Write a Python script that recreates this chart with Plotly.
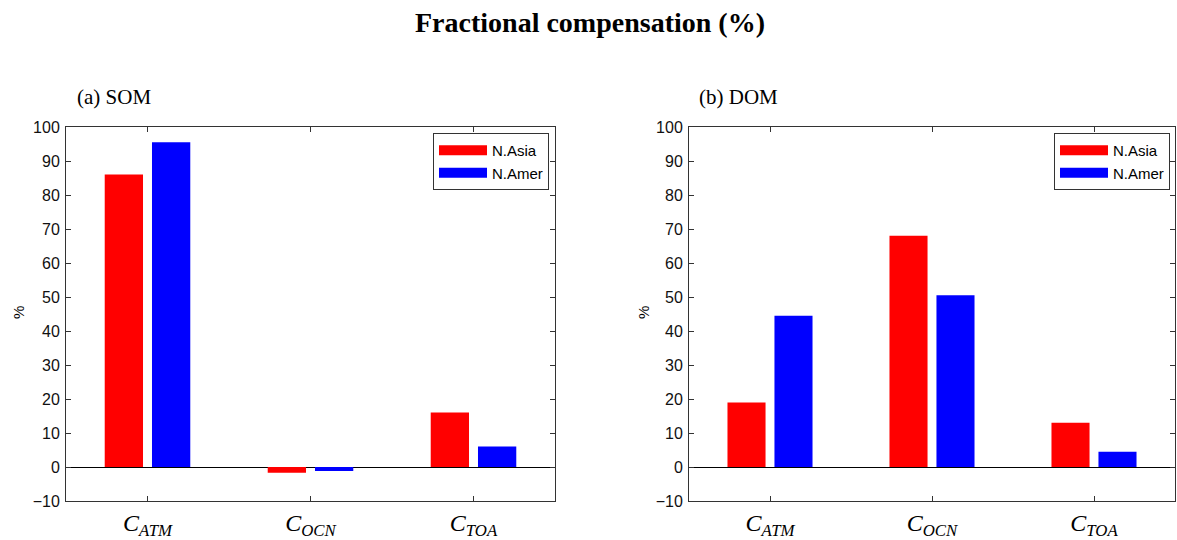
import plotly.graph_objects as go

categories = ["ATM", "OCN", "TOA"]
som_asia = [86.0, -1.7, 16.0]
som_amer = [95.5, -1.2, 6.0]
dom_asia = [19.0, 68.0, 13.0]
dom_amer = [44.5, 50.5, 4.5]
series_names = ["N.Asia", "N.Amer"]
colors = ["#ff0000", "#0000ff"]
yticks = list(range(-10, 101, 10))
tick_text = ["<i>C</i><sub><i>%s</i></sub>" % c for c in categories]

W, H = 1177, 540
xpos = [1, 2, 3]

fig = go.Figure()
for i, (a, b) in enumerate([(som_asia, som_amer), (dom_asia, dom_amer)]):
    xa = "x" if i == 0 else "x2"
    ya = "y" if i == 0 else "y2"
    lg = "legend" if i == 0 else "legend2"
    for vals, name, col in [(a, series_names[0], colors[0]), (b, series_names[1], colors[1])]:
        fig.add_trace(go.Bar(x=xpos, y=vals, name=name, marker=dict(color=col, line=dict(width=0)),
                             xaxis=xa, yaxis=ya, showlegend=False, offsetgroup=name))
        fig.add_trace(go.Scatter(x=[None], y=[None], mode="lines", name=name,
                                 line=dict(color=col, width=13), xaxis=xa, yaxis=ya,
                                 legend=lg, showlegend=True))

ydom = [(540 - 501) / H, (540 - 127) / H]
axis_common = dict(showline=True, linecolor="#333333", linewidth=1, mirror="ticks",
                   ticks="inside", ticklen=5, tickcolor="#333333", showgrid=False, automargin=False)
xcommon = dict(axis_common, range=[0.5, 3.5], tickvals=xpos, ticktext=tick_text,
               tickfont=dict(family="Liberation Serif", size=24, color="black"), zeroline=False,
               ticklabelstandoff=0)
ycommon = dict(axis_common, range=[-10, 100], tickvals=yticks,
               tickfont=dict(family="Liberation Sans", size=16, color="#111111"),
               zeroline=True, zerolinecolor="black", zerolinewidth=1, ticklabelstandoff=2)

legend_common = dict(yanchor="top", xanchor="right", y=(540 - 133) / H,
                     bgcolor="white", bordercolor="#333333", borderwidth=1,
                     font=dict(family="Liberation Sans", size=15, color="black"),
                     itemwidth=48, tracegroupgap=0)

fig.update_layout(
    width=W, height=H, margin=dict(l=0, r=0, t=0, b=0),
    paper_bgcolor="white", plot_bgcolor="white",
    barmode="group", bargap=0.42, bargroupgap=0.19,
    xaxis=dict(xcommon, domain=[66 / W, 555 / W], anchor="y"),
    yaxis=dict(ycommon, domain=ydom, anchor="x"),
    xaxis2=dict(xcommon, domain=[689 / W, 1175 / W], anchor="y2"),
    yaxis2=dict(ycommon, domain=ydom, anchor="x2"),
    legend=dict(legend_common, x=549 / W),
    legend2=dict(legend_common, x=1170 / W),
    annotations=[
        dict(text="<b>Fractional compensation (%)</b>", x=590 / W, y=(540 - 22) / H, xref="paper", yref="paper",
             xanchor="center", yanchor="middle",
             showarrow=False, font=dict(family="Liberation Serif", size=28, color="black")),
        dict(text="(a) SOM", x=75 / W, y=(540 - 97) / H, xref="paper", yref="paper",
             xanchor="left", yanchor="middle",
             showarrow=False, font=dict(family="Liberation Serif", size=21, color="black")),
        dict(text="(b) DOM", x=697 / W, y=(540 - 97) / H, xref="paper", yref="paper",
             xanchor="left", yanchor="middle",
             showarrow=False, font=dict(family="Liberation Serif", size=21, color="black")),
        dict(text="%", x=18 / W, y=(540 - 313) / H, xref="paper", yref="paper", textangle=-90,
             xanchor="center", yanchor="middle",
             showarrow=False, font=dict(family="Liberation Sans", size=15, color="black")),
        dict(text="%", x=643 / W, y=(540 - 313) / H, xref="paper", yref="paper", textangle=-90,
             xanchor="center", yanchor="middle",
             showarrow=False, font=dict(family="Liberation Sans", size=15, color="black")),
    ],
)

fig.write_html("out.html")
